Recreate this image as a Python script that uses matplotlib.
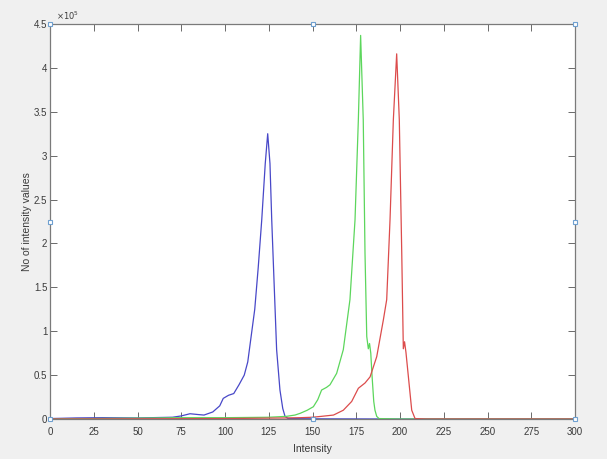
import matplotlib
matplotlib.use("Agg")
import matplotlib.pyplot as plt
from matplotlib import font_manager

# ---- data (values in units of 1e5) ----
blue_x = [0, 15, 30, 50, 70, 75, 80, 85, 88, 93, 97, 99, 102, 105, 108, 111, 113, 115, 117,
          119, 121, 123, 124.4, 125.7, 126.7, 128, 129.5, 131.4, 133, 134.3, 136, 150, 200, 300]
blue_y = [0.005, 0.012, 0.015, 0.012, 0.02, 0.035, 0.06, 0.05, 0.045, 0.08, 0.15, 0.235, 0.27,
          0.29, 0.39, 0.5, 0.65, 0.95, 1.25, 1.73, 2.27, 2.91, 3.25, 2.91, 2.27, 1.58, 0.79,
          0.33, 0.12, 0.03, 0.005, 0.002, 0, 0]

green_x = [0, 50, 75, 100, 125, 135, 140, 143, 147, 150.5, 153, 155.2, 158, 160, 163.8, 167.6,
           171.4, 174.3, 176.2, 177.5, 179, 180, 181, 181.9, 182.6, 183.3, 184, 185, 185.7,
           186.7, 188, 200, 300]
green_y = [0, 0.01, 0.015, 0.015, 0.02, 0.03, 0.045, 0.065, 0.1, 0.14, 0.22, 0.33, 0.36, 0.39,
           0.52, 0.79, 1.36, 2.27, 3.41, 4.37, 3.41, 1.89, 0.94, 0.8, 0.86, 0.75, 0.5, 0.2, 0.1,
           0.03, 0.005, 0, 0]

red_x = [0, 100, 125, 135, 143, 150, 155, 162, 167.6, 172.4, 176.2, 180, 182.9, 186.7, 190.5,
         192.4, 194.3, 196.2, 198.1, 199.6, 201, 201.9, 202.6, 203.4, 204.8, 206.7, 208.6, 215, 300]
red_y = [0, 0.005, 0.01, 0.012, 0.015, 0.02, 0.03, 0.045, 0.1, 0.2, 0.35, 0.41, 0.48, 0.71, 1.13,
         1.36, 2.27, 3.41, 4.16, 3.41, 1.89, 0.8, 0.88, 0.76, 0.48, 0.1, 0.005, 0, 0]

x_ticks = [0, 25, 50, 75, 100, 125, 150, 175, 200, 225, 250, 275, 300]
y_ticks = [0, 0.5, 1, 1.5, 2, 2.5, 3, 3.5, 4, 4.5]
y_tick_labels = ["0", "0.5", "1", "1.5", "2", "2.5", "3", "3.5", "4", "4.5"]

handle_x = [0, 0, 0, 150, 150, 300, 300, 300]
handle_y = [0, 2.25, 4.5, 0, 4.5, 0, 2.25, 4.5]

installed = {f.name for f in font_manager.fontManager.ttflist}
narrow = 'Liberation Sans Narrow' if 'Liberation Sans Narrow' in installed else 'Liberation Sans'
plt.rcParams['font.family'] = ['Liberation Sans', 'DejaVu Sans']

fig = plt.figure(figsize=(6.07, 4.59), dpi=100, facecolor='#f0f0f0')
ax = fig.add_axes([50 / 607, 40 / 459, 525 / 607, 395 / 459])
ax.set_facecolor('white')

ax.plot(blue_x, blue_y, color='#4848c8', lw=0.9)
ax.plot(green_x, green_y, color='#5cd65c', lw=0.9)
ax.plot(red_x, red_y, color='#dc4c4c', lw=0.9)

ax.set_xlim(0, 300)
ax.set_ylim(0, 4.5)
ax.set_xticks(x_ticks)
ax.set_xticklabels([str(v) for v in x_ticks], family=[narrow, 'DejaVu Sans'])
ax.set_yticks(y_ticks)
ax.set_yticklabels(y_tick_labels, family=[narrow, 'DejaVu Sans'])

ax.tick_params(direction='in', length=5, width=0.7, colors='#6a6a6a',
               labelcolor='#3a3a3a', labelsize=7, top=True, right=True)
ax.tick_params(axis='y', pad=2)
ax.tick_params(axis='x', pad=6)
for s in ax.spines.values():
    s.set_color('#7a7a7a')
    s.set_linewidth(0.9)

ax.set_xlabel('Intensity', fontsize=7.5, color='#3a3a3a', labelpad=5)
ax.set_ylabel('No of intensity values', fontsize=7.5, color='#3a3a3a')
ax.yaxis.set_label_coords(-0.034, 0.5)
ax.text(0.012, 1.004, r'$\times10^{5}$', transform=ax.transAxes, fontsize=6,
        color='#3a3a3a', ha='left', va='bottom')

ax.plot(handle_x, handle_y, linestyle='none', marker='s', markersize=3.5,
        markerfacecolor='white', markeredgecolor='#6fa0d0', markeredgewidth=0.8,
        clip_on=False, zorder=5)

fig.savefig('out.png', dpi=100, facecolor=fig.get_facecolor())
